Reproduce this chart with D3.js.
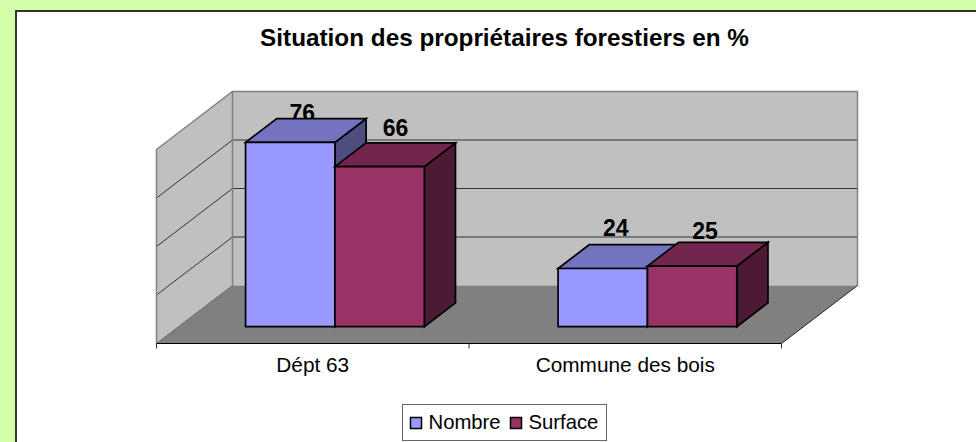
<!DOCTYPE html>
<html>
<head>
<meta charset="utf-8">
<script src="https://d3js.org/d3.v7.min.js"></script>
<style>
html, body { margin: 0; padding: 0; background: #d4ffaa; overflow: hidden; }
svg { display: block; }
text { font-family: "Liberation Sans", Arial, sans-serif; fill: #000; }
</style>
</head>
<body>
<svg id="chart" width="976" height="442"></svg>
<script>
// values
var categories = ["Dépt 63", "Commune des bois"];
var seriesNames = ["Nombre", "Surface"];
var nombre = [76, 24];
var surface = [66, 25];
var yTicks = [0, 20, 40, 60, 80];
var titleText = "Situation des propriétaires forestiers en %";

var frontColors = ["#9999ff", "#993366"];
var topColors = ["#7373bf", "#73264d"];
var sideColors = ["#4d4d80", "#4d1a33"];

var svg = d3.select("#chart");

// white chart area, only the top and left borders are visible
svg.append("rect").attr("x", 16).attr("y", 11).attr("width", 960).attr("height", 431).attr("fill", "#fff");
svg.append("path").attr("d", "M16,442V11H976").attr("fill", "none").attr("stroke", "#333").attr("stroke-width", 2);

svg.append("text")
    .attr("x", 504.5).attr("y", 46)
    .attr("text-anchor", "middle")
    .attr("font-size", "24.3px")
    .attr("font-weight", "bold")
    .text(titleText);

// scales for the front plane of the box
var x = d3.scaleBand().domain(categories).range([156.5, 781.5]);
var y = d3.scaleLinear().domain([0, 80]).range([343.5, 149.5]);
var depth = d3.scaleLinear().domain([0, 1]);
var depthX = depth.copy().range([0, 76]);
var depthY = depth.copy().range([0, -58]);

// x, value, z -> screen point
function pt(px, val, z) {
    return [px + depthX(z), y(val) + depthY(z)];
}
var line = d3.line();
function face(points) {
    return line(points) + "Z";
}

var xLeft = x.range()[0], xRight = x.range()[1];

var g = svg.append("g");

// back wall, side wall, floor
g.append("path")
    .attr("d", face([pt(xLeft, 80, 1), pt(xRight, 80, 1), pt(xRight, 0, 1), pt(xLeft, 0, 1)]))
    .attr("fill", "#c0c0c0");
g.append("path")
    .attr("d", face([pt(xLeft, 80, 0), pt(xLeft, 80, 1), pt(xLeft, 0, 1), pt(xLeft, 0, 0)]))
    .attr("fill", "#c0c0c0");
g.append("path")
    .attr("d", face([pt(xLeft, 0, 0), pt(xLeft, 0, 1), pt(xRight, 0, 1), pt(xRight, 0, 0)]))
    .attr("fill", "#808080");

// gridlines run along the side wall and the back wall
g.selectAll(".grid")
    .data(yTicks.slice(1, 4))
    .enter().append("path")
    .attr("class", "grid")
    .attr("d", function(d) { return line([pt(xLeft, d, 0), pt(xLeft, d, 1), pt(xRight, d, 1)]); })
    .attr("fill", "none")
    .attr("stroke", "#333")
    .attr("stroke-width", 1);

// wall outlines
g.append("path")
    .attr("d", line([pt(xLeft, 0, 0), pt(xLeft, 80, 0), pt(xLeft, 80, 1), pt(xRight, 80, 1), pt(xRight, 0, 1)]))
    .attr("fill", "none").attr("stroke", "#808080").attr("stroke-width", 1.5);
g.append("path")
    .attr("d", line([pt(xLeft, 0, 1), pt(xLeft, 80, 1)]))
    .attr("fill", "none").attr("stroke", "#808080").attr("stroke-width", 1.5);
g.append("path")
    .attr("d", line([pt(xLeft, 0, 0), pt(xLeft, 0, 1)]))
    .attr("fill", "none").attr("stroke", "#666").attr("stroke-width", 1);
g.append("path")
    .attr("d", line([pt(xRight, 0, 0), pt(xRight, 0, 1)]))
    .attr("fill", "none").attr("stroke", "#222").attr("stroke-width", 1);

// category axis: labels come from the band scale, ticks sit on the band edges
var axis = svg.append("g")
    .attr("transform", "translate(0," + y(0) + ")")
    .call(d3.axisBottom(x).tickSize(0).tickPadding(14));
axis.select(".domain").attr("stroke", "#000").attr("d", "M" + xLeft + ",0H" + xRight);
axis.selectAll("text").attr("font-size", "20.8px").attr("font-family", '"Liberation Sans", Arial, sans-serif');
axis.selectAll(".edge")
    .data([xLeft, xLeft + x.bandwidth(), xRight])
    .enter().append("line")
    .attr("class", "edge")
    .attr("x1", function(d) { return d; })
    .attr("x2", function(d) { return d; })
    .attr("y1", 0).attr("y2", 5)
    .attr("stroke", "#333");

// bars
var barWidth = x.bandwidth() * 0.286;
var zFront = 0.29, zBack = 0.70;
var series = [nombre, surface];
var startOffset = x.bandwidth() * 0.2145;

// label nudges in px, Excel does not place them evenly
var labelDx = [[12, 16], [13, 13]];
var labelDy = [[-21, -31], [-32, -27]];

// labels go first, the top of the 76 bar covers its label a little
series.forEach(function(vals, s) {
    vals.forEach(function(v, c) {
        var x0 = x(categories[c]) + startOffset + s * barWidth;
        var f = pt(x0 + barWidth / 2, v, zFront);
        svg.append("text")
            .attr("x", f[0] + labelDx[c][s])
            .attr("y", f[1] + labelDy[c][s])
            .attr("text-anchor", "middle")
            .attr("font-size", "23px")
            .attr("font-weight", "bold")
            .text(v);
    });
});

series.forEach(function(vals, s) {
    var bars = svg.append("g").attr("class", "series-" + s);
    vals.forEach(function(v, c) {
        var x0 = x(categories[c]) + startOffset + s * barWidth;
        var x1 = x0 + barWidth;
        var parts = [
            [sideColors[s], [pt(x1, v, zFront), pt(x1, v, zBack), pt(x1, 0, zBack), pt(x1, 0, zFront)]],
            [topColors[s], [pt(x0, v, zFront), pt(x0, v, zBack), pt(x1, v, zBack), pt(x1, v, zFront)]],
            [frontColors[s], [pt(x0, v, zFront), pt(x1, v, zFront), pt(x1, 0, zFront), pt(x0, 0, zFront)]]
        ];
        parts.forEach(function(p) {
            bars.append("path")
                .attr("d", face(p[1]))
                .attr("fill", p[0])
                .attr("stroke", "#000")
                .attr("stroke-width", 1.7)
                .attr("stroke-linejoin", "miter");
        });
    });
});

// legend
var legend = svg.append("g");
legend.append("rect")
    .attr("x", 402.5).attr("y", 404.5).attr("width", 204).attr("height", 36)
    .attr("fill", "#fff").attr("stroke", "#666").attr("stroke-width", 1);
var legendX = d3.scaleOrdinal().domain(seriesNames).range([410.5, 510.5]);
seriesNames.forEach(function(name, i) {
    legend.append("rect")
        .attr("x", legendX(name)).attr("y", 417.5).attr("width", 11).attr("height", 11)
        .attr("fill", frontColors[i]).attr("stroke", "#000").attr("stroke-width", 1.5);
    legend.append("text")
        .attr("x", legendX(name) + 18).attr("y", 429)
        .attr("font-size", "20.3px")
        .text(name);
});
</script>
</body>
</html>
